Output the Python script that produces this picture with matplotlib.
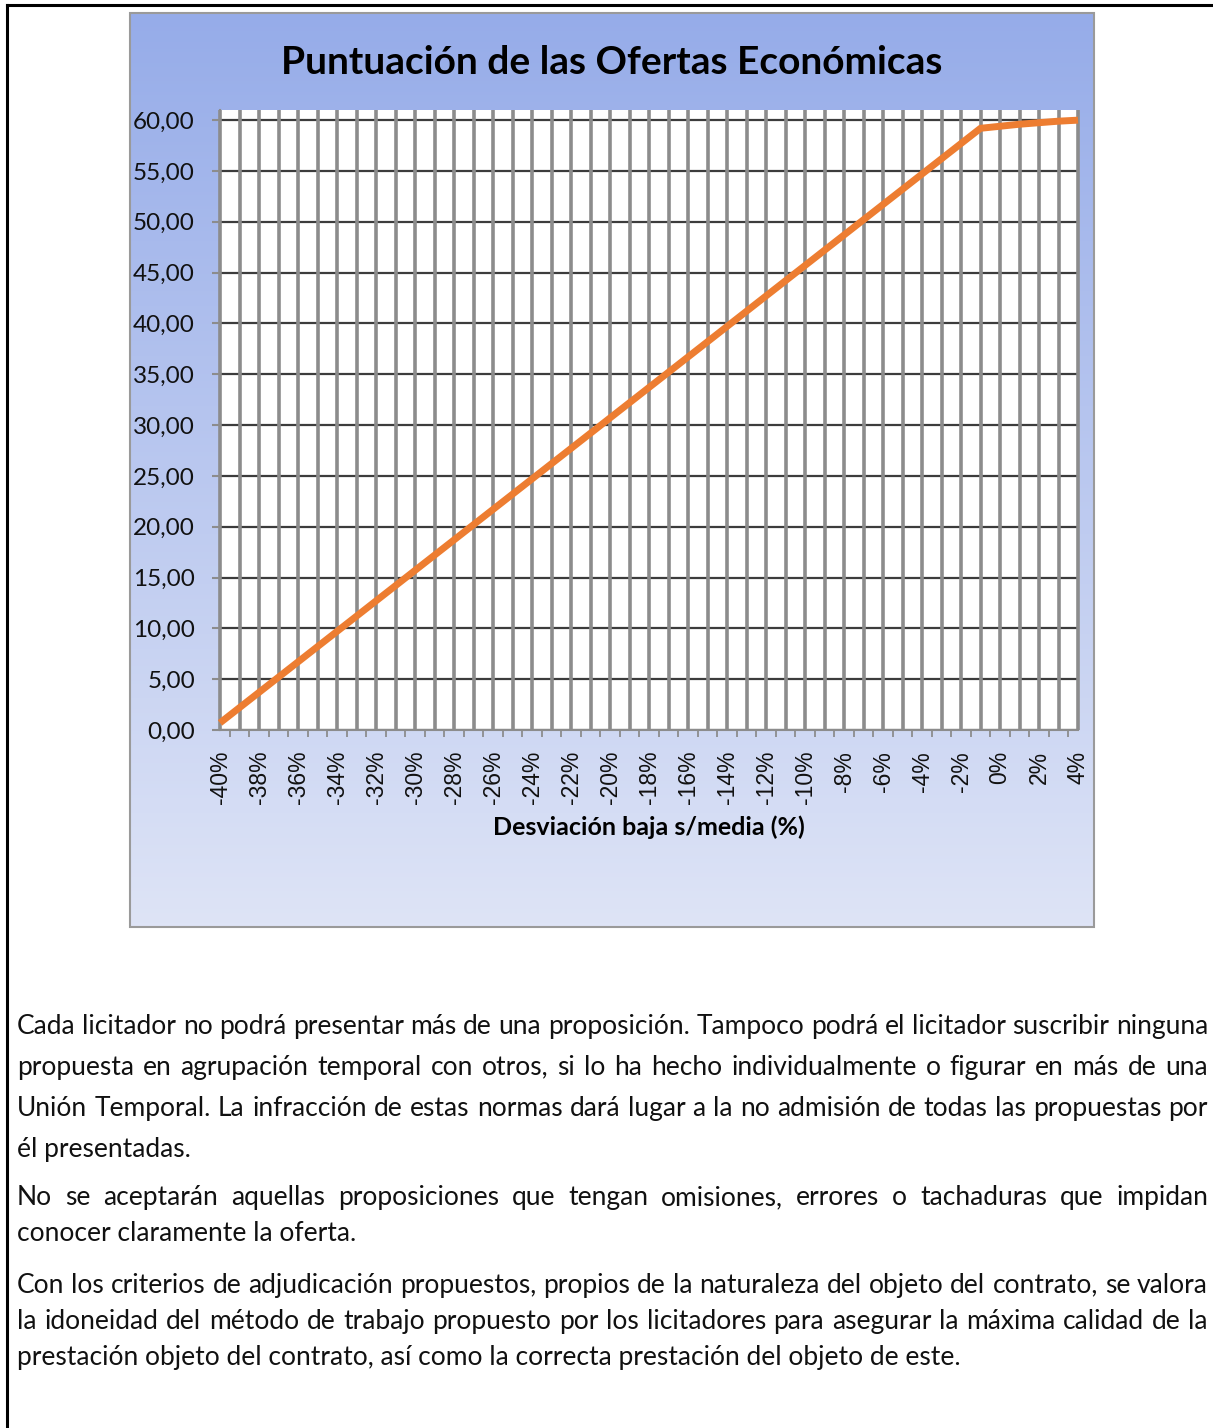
import numpy as np
import matplotlib.pyplot as plt
from matplotlib.patches import Rectangle
from matplotlib.lines import Line2D

W, H = 1213, 1428

# datos del grafico
desviacion = list(range(-40, 5))
puntuacion = [0.7, 2.2, 3.7, 5.2, 6.7, 8.2, 9.7, 11.2, 12.7, 14.2,
              15.7, 17.2, 18.7, 20.2, 21.7, 23.2, 24.7, 26.2, 27.7, 29.2,
              30.7, 32.2, 33.7, 35.2, 36.7, 38.2, 39.7, 41.2, 42.7, 44.2,
              45.7, 47.2, 48.7, 50.2, 51.7, 53.2, 54.7, 56.2, 57.7, 59.2,
              59.4, 59.6, 59.75, 59.9, 60.0]
ticks_x = list(range(-40, 5, 2))
etiquetas_x = ["%d%%" % d for d in ticks_x]
ticks_y = [0, 5, 10, 15, 20, 25, 30, 35, 40, 45, 50, 55, 60]
etiquetas_y = [("%.2f" % v).replace(".", ",") for v in ticks_y]

titulo = "Puntuación de las Ofertas Económicas"
titulo_x = "Desviación baja s/media (%)"

# texto del documento: (linea, baseline en px, justificada)
lineas = [
    ("Cada licitador no podrá presentar más de una proposición. Tampoco podrá el licitador suscribir ninguna", 1034, True),
    ("propuesta en agrupación temporal con otros, si lo ha hecho individualmente o figurar en más de una", 1075, True),
    ("Unión Temporal. La infracción de estas normas dará lugar a la no admisión de todas las propuestas por", 1116, True),
    ("él presentadas.", 1157, False),
    ("No se aceptarán aquellas proposiciones que tengan omisiones, errores o tachaduras que impidan", 1205, True),
    ("conocer claramente la oferta.", 1241, False),
    ("Con los criterios de adjudicación propuestos, propios de la naturaleza del objeto del contrato, se valora", 1293, True),
    ("la idoneidad del método de trabajo propuesto por los licitadores para asegurar la máxima calidad de la", 1329, True),
    ("prestación objeto del contrato, así como la correcta prestación del objeto de este.", 1365, False),
]


def caja(x0, y0, x1, y1):
    return [x0 / W, 1 - y1 / H, (x1 - x0) / W, (y1 - y0) / H]


fig = plt.figure(figsize=(W / 100, H / 100), dpi=100)

# marco de la pagina
fig.add_artist(Line2D([7 / W, 7 / W], [0, 1 - 5 / H], color="black", lw=2.2))
fig.add_artist(Line2D([7 / W, 1], [1 - 5 / H, 1 - 5 / H], color="black", lw=2.2))

# fondo degradado del grafico
ax_bg = fig.add_axes(caja(130, 13, 1094, 927))
top = np.array([150, 172, 233]) / 255
bottom = np.array([222, 228, 246]) / 255
t = np.linspace(0, 1, 256)[:, None]
grad = top[None, :] * (1 - t) + bottom[None, :] * t
ax_bg.imshow(grad[:, None, :], aspect="auto", extent=[0, 1, 0, 1])
ax_bg.set_xlim(0, 1)
ax_bg.set_ylim(0, 1)
ax_bg.axis("off")
ax_bg.add_patch(Rectangle((0, 0), 1, 1, transform=ax_bg.transAxes, fill=False,
                          edgecolor="#9a9a9a", lw=1.5, clip_on=False))

# area de trazado
ax = fig.add_axes(caja(220, 110, 1078, 730))
ax.set_facecolor("white")
ax.set_xlim(-40, 4)
ax.set_ylim(0, 61)

ax.set_yticks(ticks_y)
ax.set_yticklabels(etiquetas_y, fontfamily="Lato", fontsize=17.5, color="#111111")
ax.yaxis.grid(True, color="#3c3c3c", lw=1.6, zorder=1)
ax.set_axisbelow(True)
ax.vlines(desviacion, 0, 1, transform=ax.get_xaxis_transform(),
          color="#8c8c8c", lw=2.6, zorder=1.5, clip_on=False)

ax.set_xticks(ticks_x)
ax.set_xticklabels(etiquetas_x, rotation=90, fontfamily="Liberation Sans",
                   fontsize=16.5, color="#111111")
ax.set_xticks([d + 0.5 for d in desviacion[:-1]], minor=True)
ax.tick_params(axis="x", which="major", length=0, pad=15)
ax.tick_params(axis="x", which="minor", length=5, width=1.3, color="#8c8c8c")
ax.tick_params(axis="y", length=6, width=1.5, color="#8c8c8c", pad=12)

for s in ["top", "right"]:
    ax.spines[s].set_visible(False)
for s in ["left", "bottom"]:
    ax.spines[s].set_color("#8c8c8c")
    ax.spines[s].set_linewidth(1.5)

ax.plot(desviacion, puntuacion, color="#ED7D31", lw=5, zorder=3,
        solid_capstyle="butt", clip_on=False)

fig.text(612 / W, 1 - 62 / H, titulo, ha="center", va="center",
         fontfamily="Lato", fontweight="bold", fontsize=28)
fig.text(649 / W, 1 - 827 / H, titulo_x, ha="center", va="center",
         fontfamily="Lato", fontweight="bold", fontsize=18)

# texto justificado debajo del grafico
renderer = fig.canvas.get_renderer()
x0, x1 = 17, 1208
for linea, yb, justif in lineas:
    kw = dict(fontfamily="Lato", fontsize=19, color="#111111", va="baseline", ha="left")
    if not justif:
        fig.text(x0 / W, 1 - yb / H, linea, **kw)
        continue
    palabras = linea.split()
    textos = [fig.text(0, 1 - yb / H, p, **kw) for p in palabras]
    anchos = [tx.get_window_extent(renderer).width for tx in textos]
    hueco = (x1 - x0 - sum(anchos)) / (len(palabras) - 1)
    x = x0
    for tx, a in zip(textos, anchos):
        tx.set_x(x / W)
        x += a + hueco

fig.savefig("out.png", dpi=100)
